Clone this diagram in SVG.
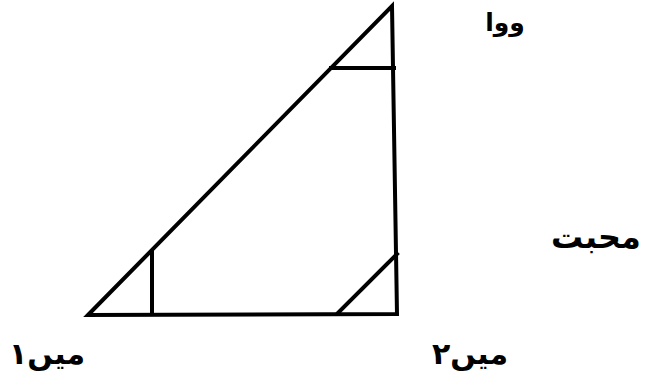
<svg xmlns="http://www.w3.org/2000/svg" width="645" height="390" viewBox="0 0 645 390">
<style>
.ln{stroke:#000;stroke-width:4;fill:none;stroke-linecap:square;stroke-linejoin:miter}
.lb{font-family:"DejaVu Sans",sans-serif;font-weight:bold;fill:#000;text-anchor:middle}
</style>
<rect width="645" height="390" fill="#fff"/>
<g id="connectors">
<path class="ln" d="M88,315 L392,6 L397,314 Z"/>
<line class="ln" x1="331" y1="68" x2="394" y2="68"/>
<line class="ln" x1="152" y1="251" x2="152" y2="314"/>
<line class="ln" x1="338" y1="313" x2="397" y2="254"/>
</g>
<g id="n-wawa"><text class="lb" x="505" y="31" font-size="25">ووا</text></g>
<g id="n-mohabbat"><text class="lb" x="596" y="248" font-size="32">محبت</text></g>
<g id="n-main1"><text class="lb" x="47" y="364" font-size="30">میں۱</text></g>
<g id="n-main2"><text class="lb" x="470" y="364" font-size="30">میں۲</text></g>
</svg>
